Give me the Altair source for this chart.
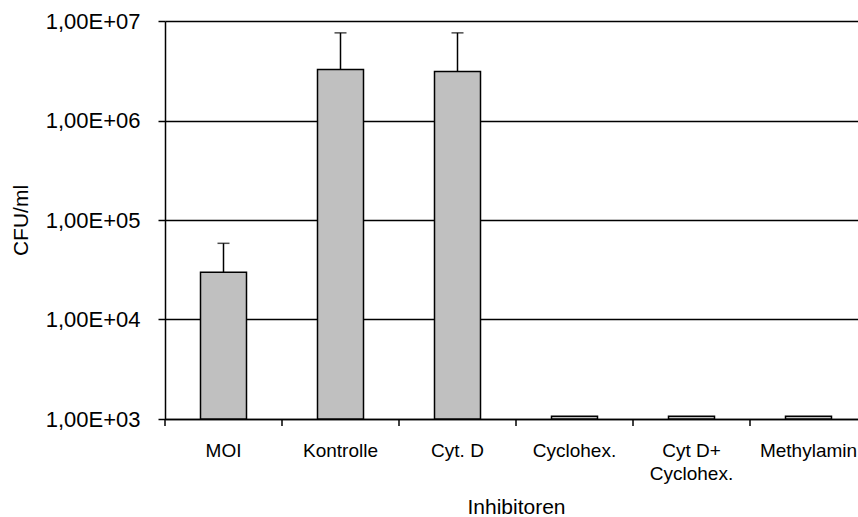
import altair as alt
import pandas as pd

categories = ["MOI", "Kontrolle", "Cyt. D", "Cyclohex.", "Cyt D+\nCyclohex.", "Methylamin"]
values = [2.98e4, 3.26e6, 3.10e6, 1.065e3, 1.065e3, 1.065e3]
err_top = [5.83e4, 7.6e6, 7.6e6, None, None, None]
y_ticks = [1e3, 1e4, 1e5, 1e6, 1e7]

df = pd.DataFrame({"cat": categories, "val": values, "err": err_top})

FONT = "Liberation Sans"

x_enc = alt.X(
    "cat:N",
    sort=categories,
    scale=alt.Scale(range=[0, 702], paddingInner=0, paddingOuter=0),
    axis=alt.Axis(
        title="Inhibitoren",
        titleFont=FONT,
        titleFontSize=21,
        titleFontWeight="normal",
        titleColor="black",
        titleBaseline="alphabetic",
        titleY=94,
        labelExpr="split(datum.label, '\\n')",
        labelFont=FONT,
        labelFontSize=19,
        labelColor="black",
        labelAngle=0,
        labelBaseline="alphabetic",
        labelPadding=37,
        labelLineHeight=23.5,
        ticks=False,
        domainColor="black",
        domainWidth=1.5,
        grid=False,
    ),
)

y_scale = alt.Scale(type="log", domain=[1e3, 1e7], nice=False)
y_axis = alt.Axis(
    title="CFU/ml",
    titleFont=FONT,
    titleFontSize=21,
    titleFontWeight="normal",
    titleColor="black",
    titleAngle=-90,
    titleAlign="center",
    titleBaseline="middle",
    titleX=-144,
    titleY=199,
    values=y_ticks,
    labelExpr="'1,00E+0' + round(log(datum.value) / LN10)",
    labelFont=FONT,
    labelFontSize=22,
    labelColor="black",
    labelPadding=18,
    tickSize=7,
    tickColor="black",
    tickWidth=1.5,
    domainColor="black",
    domainWidth=1.5,
    grid=True,
    gridColor="black",
    gridWidth=1.5,
)

base = alt.Chart(df)

bars = base.mark_bar(
    fill="#C0C0C0", stroke="black", strokeWidth=1.5, size=46
).encode(
    x=x_enc,
    y=alt.Y("val:Q", scale=y_scale, axis=y_axis),
    y2=alt.datum(1e3),
)

err_df = df.dropna(subset=["err"])
stems = alt.Chart(err_df).mark_rule(color="black", strokeWidth=1.5).encode(
    x=alt.X("cat:N", sort=categories),
    y=alt.Y("val:Q"),
    y2="err:Q",
)
caps = alt.Chart(err_df).mark_tick(
    color="black", thickness=1.5, size=12, orient="horizontal"
).encode(
    x=alt.X("cat:N", sort=categories),
    y=alt.Y("err:Q"),
)

xticks = base.mark_rule(color="black", strokeWidth=1.5).encode(
    x=alt.X("cat:N", sort=categories, bandPosition=0),
    y=alt.value(398),
    y2=alt.value(405),
)

chart = alt.layer(bars, stems, caps, xticks).properties(
    width=693,
    height=398,
    autosize=alt.AutoSizeParams(type="none"),
    padding={"left": 165, "top": 21, "right": 0, "bottom": 98},
    background="white",
).configure_view(stroke=None)

chart.save("out.html", embed_options={"renderer": "svg", "actions": False})
